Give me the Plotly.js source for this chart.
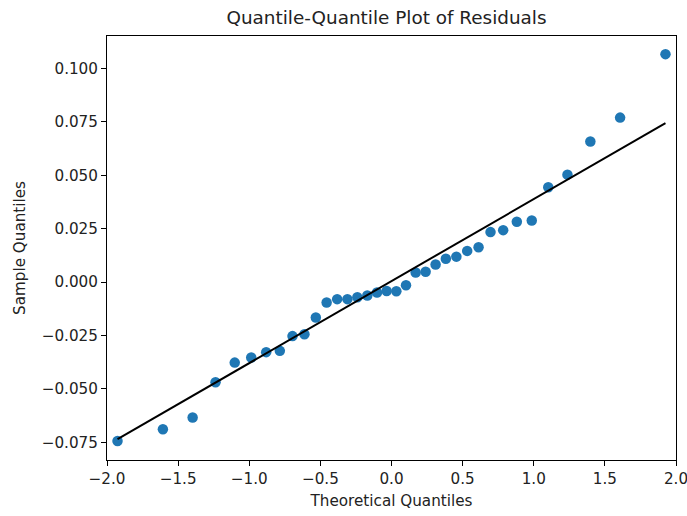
<!DOCTYPE html>
<html>
<head>
<meta charset="utf-8">
<script src="https://cdn.plot.ly/plotly-3.0.1.min.js"></script>
<style>
  html, body { margin: 0; padding: 0; background: #fff; }
  #chart { width: 687px; height: 516px; }
</style>
</head>
<body>
<div id="chart"></div>
<script>
// Theoretical normal quantiles (x) and ordered residuals (y)
const theoreticalQ = [
  -1.926, -1.607, -1.398, -1.237, -1.102, -0.986, -0.881, -0.785, -0.696,
  -0.612, -0.532, -0.456, -0.382, -0.310, -0.240, -0.170, -0.102, -0.034,
   0.034,  0.102,  0.170,  0.240,  0.310,  0.382,  0.456,  0.532,  0.612,
   0.696,  0.785,  0.881,  0.986,  1.102,  1.237,  1.398,  1.607,  1.926
];
const sampleQ = [
  -0.0744, -0.0689, -0.0634, -0.0469, -0.0377, -0.0353, -0.0328, -0.0322, -0.0253,
  -0.0244, -0.0166, -0.0096, -0.0080, -0.0080, -0.0071, -0.0063, -0.0049, -0.0042,
  -0.0043, -0.0015,  0.0045,  0.0048,  0.0082,  0.0109,  0.0119,  0.0146,  0.0163,
   0.0234,  0.0243,  0.0282,  0.0288,  0.0444,  0.0503,  0.0658,  0.0770,  0.1067
];

// Standardized reference line endpoints
const refLineX = [-1.926, 1.926];
const refLineY = [-0.0735, 0.0744];

const yTicks = [-0.075, -0.050, -0.025, 0.000, 0.025, 0.050, 0.075, 0.100];
const xTicks = [-2.0, -1.5, -1.0, -0.5, 0.0, 0.5, 1.0, 1.5, 2.0];

const font = { family: 'DejaVu Sans, sans-serif', color: '#000' };
const labelSize = 15.2;

const traces = [
  {
    x: theoreticalQ, y: sampleQ, type: 'scatter', mode: 'markers',
    marker: { color: '#1f77b4', size: 10.5, line: { width: 0 } },
    hoverinfo: 'x+y'
  },
  {
    x: refLineX, y: refLineY, type: 'scatter', mode: 'lines',
    line: { color: '#000', width: 2 }
  }
];

const axisCommon = {
  showgrid: false, zeroline: false,
  showline: true, linecolor: '#000', linewidth: 1, mirror: true,
  ticks: 'outside', ticklen: 5, tickwidth: 1, tickcolor: '#000',
  tickfont: { ...font, size: labelSize, color: '#222' },
  ticklabeloverflow: 'allow',
  automargin: false
};

const layout = {
  width: 687, height: 516,
  margin: { l: 107, r: 11, t: 36, b: 56 },
  paper_bgcolor: '#fff', plot_bgcolor: '#fff',
  showlegend: false,
  font: font,
  title: {
    text: 'Quantile-Quantile Plot of Residuals',
    font: { ...font, size: 18.4, color: '#222' },
    x: 386.5 / 687, xanchor: 'center', y: 1 - 18 / 516, yanchor: 'middle'
  },
  xaxis: {
    ...axisCommon,
    range: [-2, 2],
    tickvals: xTicks,
    tickformat: '.1f',
    title: { text: 'Theoretical Quantiles', font: { ...font, size: labelSize, color: '#222' }, standoff: 8 }
  },
  yaxis: {
    ...axisCommon,
    range: [-0.0833, 0.1152],
    tickvals: yTicks,
    tickformat: '.3f',
    title: { text: 'Sample Quantiles', font: { ...font, size: labelSize, color: '#222' }, standoff: 12 }
  }
};

Plotly.newPlot('chart', traces, layout, { displayModeBar: false, staticPlot: true });
</script>
</body>
</html>
